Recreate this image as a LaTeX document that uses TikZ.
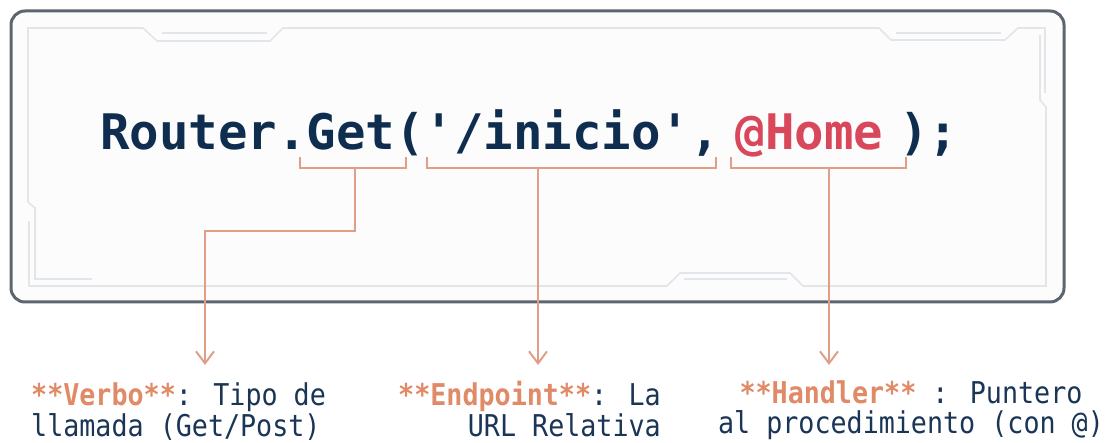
\documentclass[tikz,border=0pt]{standalone}
\usepackage{fontspec}
\usetikzlibrary{arrows.meta}
\newfontfamily\codefont{DejaVu Sans Mono}
\newfontfamily\lblfont[FakeStretch=0.89]{DejaVu Sans Mono}
\definecolor{navy}{HTML}{0F2E4F}
\definecolor{lblnavy}{HTML}{1A3556}
\definecolor{hred}{HTML}{D9475B}
\definecolor{orgtext}{HTML}{E08A68}
\definecolor{orgline}{HTML}{E29E85}
\definecolor{framegray}{HTML}{5B6670}
\definecolor{decogray}{HTML}{E2E6EA}
\definecolor{boxfill}{HTML}{FCFCFD}
\tikzset{
  frame/.style={draw=framegray, line width=3pt, rounded corners=14pt, fill=boxfill},
  deco/.style={draw=decogray, line width=1.6pt},
  brk/.style={draw=orgline, line width=2pt},
  conn/.style={draw=orgline, line width=2pt, -{Straight Barb[length=12pt,width=18pt]}},
  codetext/.style={inner sep=0pt, text=navy, font=\codefont\fontsize{49pt}{56pt}\selectfont\bfseries},
  lbl/.style={inner sep=0pt, text=lblnavy, font=\lblfont\fontsize{30pt}{31.5pt}\selectfont},
}
\newcommand{\hl}[1]{{\color{orgtext}\bfseries #1}}
\begin{document}
\begin{tikzpicture}[x=1pt,y=-1pt]
\useasboundingbox (0,0) rectangle (1109,443);
\fill[white] (0,0) rectangle (1109,443);
% outer box
\draw[frame] (11,11) rectangle (1064,302);
% inner decorative frame
\draw[deco] (92,279) -- (35,279) -- (35,208) -- (28,202) -- (28,28) -- (143,28) -- (157,41) -- (270,41) -- (283,28)
  -- (879,28) -- (891,40) -- (1005,40) -- (1018,28) -- (1045,28) -- (1045,93);
\draw[deco] (1040,35) -- (1040,100) -- (1046,107) -- (1046,286) -- (803,286) -- (790,273) -- (680,273) -- (667,286)
  -- (29,286) -- (29,221);
\draw[deco] (162,33) -- (267,33);
\draw[deco] (896,33) -- (1001,33);
\draw[deco] (684,279) -- (787,279);
% code
\node[codetext, anchor=base west] (code) at (100,150) {Router.Get('/inicio',\hspace{16pt}{\color{hred}@Home}\hspace{16pt});};
% brackets
\draw[brk] (300,157) -- (300,168) -- (406,168) -- (406,157);
\draw[brk] (427,157) -- (427,168) -- (716,168) -- (716,157);
\draw[brk] (731,157) -- (731,168) -- (906,168) -- (906,157);
\coordinate (s1) at (355,168);
\coordinate (s2) at (538,168);
\coordinate (s3) at (829,168);
\coordinate (t1) at (205,365);
\coordinate (t2) at (538,365);
\coordinate (t3) at (829,365);
\coordinate (k1) at (355,231);
\coordinate (k2) at (205,231);
% connectors
\draw[conn] (s1) -- (k1) -- (k2) -- (t1);
\draw[conn] (s2) -- (t2);
\draw[conn] (s3) -- (t3);
% labels (base anchor = baseline of the last line)
\node[lbl, align=left, anchor=base west] (verbo) at (31,437) {\hl{**Verbo**}: Tipo de\\llamada (Get/Post)};
\node[lbl, align=right, anchor=base east] (endpoint) at (661,437) {\hl{**Endpoint**}: La\\URL Relativa};
\node[lbl, align=center, anchor=base, font=\lblfont\fontsize{30pt}{30pt}\selectfont] (handler) at (911,434) {\hl{**Handler**} : Puntero\\al procedimiento (con @)};
\end{tikzpicture}
\end{document}
